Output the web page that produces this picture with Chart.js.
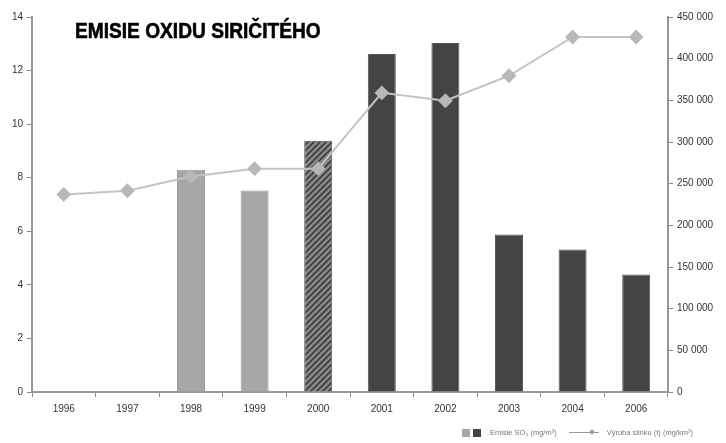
<!DOCTYPE html>
<html>
<head>
<meta charset="utf-8">
<script src="https://cdn.jsdelivr.net/npm/chart.js@4/dist/chart.umd.min.js"></script>
<style>
  html, body { margin: 0; padding: 0; background: #fff; }
  #wrap { position: relative; width: 726px; height: 443px; }
  #title {
    position: absolute; left: 75px; top: 18px;
    font-family: 'Liberation Sans', Arial, sans-serif;
    font-weight: bold; font-size: 22px; color: #000;
    transform: scaleX(0.87); transform-origin: left top; white-space: nowrap;
    -webkit-text-stroke: 0.6px #000;
  }
  #legend {
    position: absolute; left: 462px; top: 428px;
    font-family: 'Liberation Sans', Arial, sans-serif; font-size: 7.5px; color: #777;
    display: flex; align-items: center; white-space: nowrap;
  }
  .sw { display: inline-block; width: 8px; height: 8px; margin-right: 3px; }
  .ln { display: inline-block; width: 30px; height: 1px; background: #999; margin: 0 8px 0 12px; position: relative; }
  .ln:after { content: ''; position: absolute; right: 5px; top: -2px; width: 4px; height: 4px; background: #999; transform: rotate(45deg); }
</style>
</head>
<body>
<div id="wrap">
  <canvas id="chart" width="726" height="443"></canvas>
  <div id="title">EMISIE OXIDU SIRIČITÉHO</div>
  <div id="legend">
    <span class="sw" style="background:#a6a6a6"></span><span class="sw" style="background:#444"></span>
    <span style="margin-left:6px">Emisie SO₂ (mg/m³)</span>
    <span class="ln"></span>
    <span>Výroba slinku (t) (mg/km³)</span>
  </div>
</div>
<script>
// data
const years = ['1996', '1997', '1998', '1999', '2000', '2001', '2002', '2003', '2004', '2006'];
const emisieSO2 = [null, null, 8.3, 7.52, 9.38, 12.62, 13.03, 5.88, 5.32, 4.39];
const vyrobaSlinku = [237000, 241500, 258500, 268000, 268000, 359000, 349500, 379500, 426000, 426000];
const leftTicks = [0, 2, 4, 6, 8, 10, 12, 14];
const rightTicks = [0, 50000, 100000, 150000, 200000, 250000, 300000, 350000, 400000, 450000];

// hatch pattern for year 2000
function hatch() {
    const c = document.createElement('canvas');
    c.width = 6; c.height = 6;
    const g = c.getContext('2d');
    g.fillStyle = '#8a8a8a';
    g.fillRect(0, 0, 6, 6);
    g.strokeStyle = '#3c3c3c';
    g.lineWidth = 1.6;
    g.beginPath();
    g.moveTo(0, 6); g.lineTo(6, 0);
    g.moveTo(-3, 3); g.lineTo(3, -3);
    g.moveTo(3, 9); g.lineTo(9, 3);
    g.stroke();
    return g.createPattern(c, 'repeat');
}

const pat = hatch();
const barColors = years.map(y => {
    if (y === '1998' || y === '1999') return '#a6a6a6';
    if (y === '2000') return pat;
    return '#444444';
});
const barBorders = years.map(y => (y === '1998' || y === '1999') ? '#999' : '#555');

const fmt = v => String(v).replace(/\B(?=(\d{3})+(?!\d))/g, ' ');
const tickFont = { family: 'Liberation Sans', size: 10 };

new Chart(document.getElementById('chart'), {
    data: {
        labels: years,
        datasets: [
            {
                type: 'line',
                label: 'Výroba slinku (t)',
                data: vyrobaSlinku,
                yAxisID: 'y2',
                borderColor: '#c4c4c4',
                borderWidth: 2,
                pointStyle: 'rectRot',
                pointRadius: 6,
                pointBackgroundColor: '#b8b8b8',
                pointBorderColor: '#b8b8b8',
                tension: 0,
                order: 0
            },
            {
                type: 'bar',
                label: 'Emisie SO2',
                data: emisieSO2,
                yAxisID: 'y',
                backgroundColor: barColors,
                borderColor: barBorders,
                borderWidth: 1,
                categoryPercentage: 1,
                barPercentage: 0.44,
                order: 1
            }
        ]
    },
    options: {
        responsive: false,
        animation: false,
        layout: { padding: { top: 17, left: 0, right: 0, bottom: 0 } },
        plugins: { legend: { display: false }, tooltip: { enabled: false } },
        scales: {
            x: {
                offset: true,
                grid: { display: true, drawOnChartArea: false, offset: true, color: '#888', tickLength: 5 },
                border: { color: '#999', width: 2 },
                ticks: { color: '#333', font: tickFont, padding: 6 },
                afterFit: s => { s.height = 51; }
            },
            y: {
                position: 'left',
                min: 0, max: 14,
                afterBuildTicks: s => { s.ticks = leftTicks.map(v => ({ value: v })); },
                grid: { drawOnChartArea: false, color: '#888', tickLength: 5 },
                border: { color: '#999', width: 2 },
                ticks: { color: '#333', font: tickFont, padding: 4 },
                afterFit: s => { s.width = 32; }
            },
            y2: {
                position: 'right',
                min: 0, max: 450000,
                afterBuildTicks: s => { s.ticks = rightTicks.map(v => ({ value: v })); },
                grid: { drawOnChartArea: false, color: '#888', tickLength: 5 },
                border: { color: '#999', width: 2 },
                ticks: { color: '#333', font: tickFont, padding: 4, callback: v => fmt(v) },
                afterFit: s => { s.width = 58; }
            }
        }
    }
});
</script>
</body>
</html>
